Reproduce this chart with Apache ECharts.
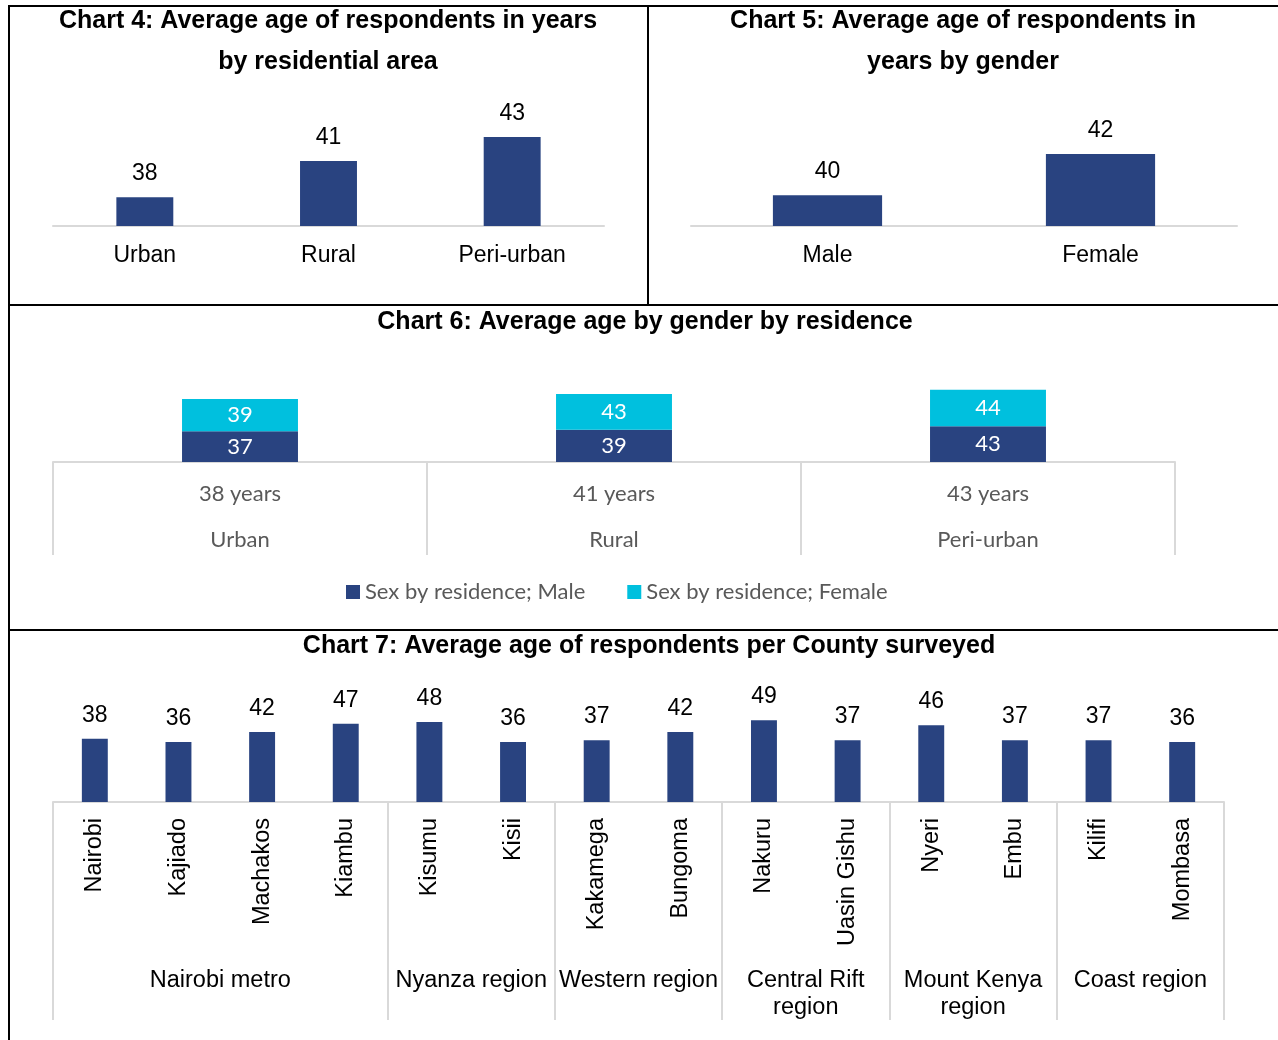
<!DOCTYPE html>
<html>
<head>
<meta charset="utf-8">
<title>Average age of respondents</title>
<script src="https://cdn.jsdelivr.net/npm/echarts@6/dist/echarts.min.js"></script>
<style>
    html, body {margin: 0; padding: 0; background: #fff;}
    #main {width: 1278px; height: 1040px;}
</style>
</head>
<body>
<div id="main"></div>
<script>
// Chart 4 - by residential area
var residenceCats = ['Urban', 'Rural', 'Peri-urban'];
var residenceAge = [38, 41, 43];

// Chart 5 - by gender
var genderCats = ['Male', 'Female'];
var genderAge = [40, 42];

// Chart 6 - gender by residence
var maleByResidence = [37, 39, 43];
var femaleByResidence = [39, 43, 44];
var sexNames = ['Sex by residence; Male', 'Sex by residence; Female'];

// Chart 7 - per county
var counties = ['Nairobi', 'Kajiado', 'Machakos', 'Kiambu', 'Kisumu', 'Kisii', 'Kakamega',
    'Bungoma', 'Nakuru', 'Uasin Gishu', 'Nyeri', 'Embu', 'Kilifi', 'Mombasa'];
var countyAge = [38, 36, 42, 47, 48, 36, 37, 42, 49, 37, 46, 37, 37, 36];
var regions = ['Nairobi metro', 'Nyanza region', 'Western region', 'Central Rift\nregion',
    'Mount Kenya\nregion', 'Coast region'];
var regionSize = [4, 2, 2, 2, 2, 2];

var darkBlue = '#294380', cyan = '#00c0de', grey = '#d9d9d9';
var arial = '"Liberation Sans", Arial, sans-serif';
var calibri = 'Lato, sans-serif';

// region group boundaries / middles (in county slots)
var regionTicks = [0], regionMids = [];
(function () {
    var acc = 0;
    for (var i = 0; i < regionSize.length; i++) {
        regionMids.push(acc + regionSize[i] / 2);
        acc += regionSize[i];
        regionTicks.push(acc);
    }
}());

function titleItem(text, x, top) {
    return {
        text: text, left: x, top: top, textAlign: 'center', padding: 0,
        textStyle: {fontFamily: arial, fontWeight: 'bold', fontSize: 25, lineHeight: 41, color: '#000'}
    };
}

function plainXAxis(grid, cats) {
    return {
        type: 'category', gridIndex: grid, data: cats,
        axisLine: {onZero: false, lineStyle: {color: grey, width: 2}},
        axisTick: {show: false},
        axisLabel: {fontFamily: arial, fontSize: 23, color: '#000', margin: 18}
    };
}

function hiddenYAxis(grid, min, max) {
    return {type: 'value', gridIndex: grid, min: min, max: max, startValue: min, show: false, splitLine: {show: false}};
}

function valueBar(name, x, y, data) {
    return {
        name: name, type: 'bar', xAxisIndex: x, yAxisIndex: y, data: data, clip: true,
        barWidth: '31%', itemStyle: {color: darkBlue},
        label: {show: true, position: 'top', distance: 12, fontFamily: arial, fontSize: 23, color: '#000'}
    };
}

var myChart = echarts.init(document.getElementById('main'));
var option = {
    animation: false,
    backgroundColor: '#fff',
    title: [
        titleItem('Chart 4: Average age of respondents in years\nby residential area', 328, 1),
        titleItem('Chart 5: Average age of respondents in\nyears by gender', 963, 1),
        titleItem('Chart 6: Average age by gender by residence', 645, 302),
        titleItem('Chart 7: Average age of respondents per County surveyed', 649, 626)
    ],
    legend: {
        data: sexNames, left: 341, top: 576, icon: 'rect', itemWidth: 14, itemHeight: 14, itemGap: 42,
        textStyle: {fontFamily: calibri, fontSize: 22, color: '#595959'}
    },
    grid: [
        {left: 53, width: 551, top: 113, height: 113, outerBoundsMode: 'none'},
        {left: 691, width: 546, top: 113, height: 113, outerBoundsMode: 'none'},
        {left: 53, width: 1122, top: 379, height: 83, outerBoundsMode: 'none'},
        {left: 53, width: 1171, top: 702, height: 100, outerBoundsMode: 'none'}
    ],
    xAxis: [
        plainXAxis(0, residenceCats),
        plainXAxis(1, genderCats),
        {
            type: 'category', gridIndex: 2, data: residenceCats,
            axisLine: {onZero: false, lineStyle: {color: grey, width: 2}},
            axisTick: {show: true, length: 93, interval: 0, lineStyle: {color: grey, width: 2}},
            axisLabel: {
                fontFamily: calibri, fontSize: 22, color: '#595959', margin: 9, lineHeight: 46,
                formatter: function (value, idx) {
                    return residenceAge[idx] + ' years\n' + value;
                }
            }
        },
        {
            type: 'category', gridIndex: 3, data: counties,
            axisLine: {onZero: false, lineStyle: {color: grey, width: 2}},
            axisTick: {show: false},
            axisLabel: {fontFamily: arial, fontSize: 23.5, color: '#000', rotate: 90, margin: 16, interval: 0}
        },
        // second level: regions
        {
            type: 'value', gridIndex: 3, position: 'bottom', min: 0, max: counties.length,
            axisLine: {show: false},
            splitLine: {show: false},
            axisTick: {show: true, customValues: regionTicks, length: 218, lineStyle: {color: grey, width: 2}},
            axisLabel: {
                customValues: regionMids, margin: 165, lineHeight: 27,
                fontFamily: arial, fontSize: 23.5, color: '#000',
                formatter: function (v) {
                    var i = regionMids.indexOf(v);
                    return i < 0 ? '' : regions[i];
                }
            }
        }
    ],
    yAxis: [
        hiddenYAxis(0, 35.6, 45),
        hiddenYAxis(1, 38.5, 44),
        hiddenYAxis(2, 0, 100),
        hiddenYAxis(3, 0, 60)
    ],
    series: [
        valueBar('Residence', 0, 0, residenceAge),
        (function () {
            var s = valueBar('Gender', 1, 1, genderAge);
            s.barWidth = '40%';
            return s;
        }()),
        {
            name: sexNames[0], type: 'bar', stack: 'res', xAxisIndex: 2, yAxisIndex: 2,
            data: maleByResidence, barWidth: '31%', itemStyle: {color: darkBlue},
            label: {show: true, position: 'inside', fontFamily: calibri, fontSize: 22, color: '#fff'}
        },
        {
            name: sexNames[1], type: 'bar', stack: 'res', xAxisIndex: 2, yAxisIndex: 2,
            data: femaleByResidence, barWidth: '31%', itemStyle: {color: cyan},
            label: {show: true, position: 'inside', fontFamily: calibri, fontSize: 22, color: '#fff'}
        },
        valueBar('County', 3, 3, countyAge)
    ],
    // panel frame
    graphic: [
        {type: 'line', shape: {x1: 9, y1: 6, x2: 1278, y2: 6}, style: {stroke: '#000', lineWidth: 2}},
        {type: 'line', shape: {x1: 9, y1: 5, x2: 9, y2: 1040}, style: {stroke: '#000', lineWidth: 2}},
        {type: 'line', shape: {x1: 648, y1: 6, x2: 648, y2: 305}, style: {stroke: '#000', lineWidth: 2}},
        {type: 'line', shape: {x1: 9, y1: 305, x2: 1278, y2: 305}, style: {stroke: '#000', lineWidth: 2}},
        {type: 'line', shape: {x1: 9, y1: 630, x2: 1278, y2: 630}, style: {stroke: '#000', lineWidth: 2}}
    ]
};
myChart.setOption(option);
</script>
</body>
</html>
